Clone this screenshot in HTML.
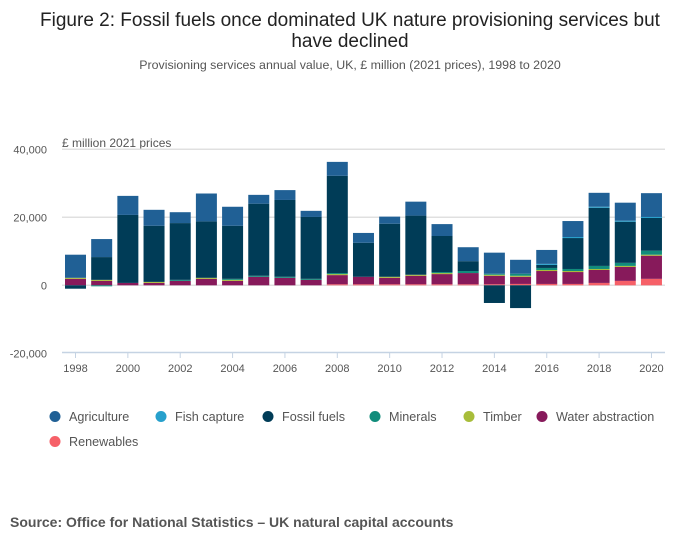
<!DOCTYPE html>
<html><head><meta charset="utf-8"><style>
body{margin:0;background:#fff;font-family:"Liberation Sans",sans-serif;}
svg text{font-family:"Liberation Sans",sans-serif;}
</style></head><body>
<svg id="chart" width="700" height="549" xmlns="http://www.w3.org/2000/svg">
<text x="350" y="26" text-anchor="middle" font-size="19" fill="#222">Figure 2: Fossil fuels once dominated UK nature provisioning services but</text>
<text x="350" y="47" text-anchor="middle" font-size="19" fill="#222">have declined</text>
<text x="350" y="69" text-anchor="middle" font-size="12.4" fill="#555">Provisioning services annual value, UK, £ million (2021 prices), 1998 to 2020</text>
<text x="62" y="147" font-size="12" fill="#555">£ million 2021 prices</text>
<g id="grid"></g><g id="bars"></g><g id="xaxis"></g><g id="legend"></g>
<text x="10" y="527" font-size="14" font-weight="bold" fill="#555">Source: Office for National Statistics – UK natural capital accounts</text>
</svg>
<script>
const years=[1998,1999,2000,2001,2002,2003,2004,2005,2006,2007,2008,2009,2010,2011,2012,2013,2014,2015,2016,2017,2018,2019,2020];
const renewables=[0,0,0,0,0,0,0,0,0,0,0.3,0.3,0.3,0.3,0.3,0.3,0.3,0.4,0.4,0.4,0.7,1.3,1.9];
const water=[1.9,1.3,0.7,0.7,1.3,1.9,1.3,2.5,2.2,1.6,2.7,2.2,1.9,2.5,3.0,3.3,2.5,2.1,3.8,3.5,3.8,4.1,6.8];
const timber=[0.3,0.3,0,0.3,0,0.3,0.3,0,0,0,0.3,0,0.3,0.3,0.3,0,0.3,0.3,0.3,0.3,0.3,0.3,0.3];
const minerals=[0,-0.3,0,0,0.3,0,0.3,0.3,0.3,0.3,0.3,0,0,0,0.3,0.6,0.3,0.6,0.6,0.6,0.9,0.9,1.2];
const fossil=[-1.0,6.7,20.0,16.5,16.7,16.6,15.6,21.2,22.6,18.2,28.6,10.0,15.6,17.4,10.6,2.9,-5.2,-6.7,0.9,9.1,17.1,12.1,9.6];
const fish=[0,0,0,0,0,0,0,0,0,0,0,0,0,0,0,0,0,0,0.3,0.3,0.3,0.3,0.3];
const agriculture=[6.8,5.3,5.6,4.7,3.2,8.2,5.6,2.6,2.9,1.8,4.1,2.9,2.1,4.1,3.5,4.1,6.2,4.1,4.1,4.7,4.1,5.3,7.0];
const yTicks=[40000,20000,0,-20000];
const xTicks=[1998,2000,2002,2004,2006,2008,2010,2012,2014,2016,2018,2020];
const seriesNames=["Renewables","Water abstraction","Timber","Minerals","Fossil fuels","Fish capture","Agriculture"];
const seriesColors=["#f66068","#871a5b","#a8bd3a","#118c7b","#003c57","#27a0cc","#206095"];
const seriesData=[renewables,water,timber,minerals,fossil,fish,agriculture];
const NS="http://www.w3.org/2000/svg";
const y=v=>285.3-v*3.4/1000;
const x=yr=>75.5+(yr-1998)*26.18;
function mk(tag,attrs,parent){const e=document.createElementNS(NS,tag);for(const k in attrs)e.setAttribute(k,attrs[k]);parent.appendChild(e);return e;}
const grid=document.getElementById('grid');
yTicks.forEach(t=>{
  if(t>-20000){const l=mk('line',{x1:62,x2:665,y1:y(t),y2:y(t),stroke:'#e0e0e0','stroke-width':1.5},grid);
  
  }
  const tx=mk('text',{x:47,y:y(t)+4,'text-anchor':'end','font-size':11,fill:'#555'},grid);
  tx.textContent=t.toLocaleString('en-US');
  
  
});
const bars=document.getElementById('bars');
years.forEach((yr,i)=>{
  let pos=0,neg=0;
  seriesData.forEach((s,j)=>{
    const v=s[i]*1000;if(!v)return;
    let a,b;
    if(v>0){a=pos;b=pos+v;pos=b;}else{a=neg;b=neg+v;neg=b;}
    const r=mk('rect',{x:x(yr)-10.5,width:21,y:Math.min(y(a),y(b)),height:Math.abs(y(a)-y(b)),fill:seriesColors[j]},bars);
    
    
  });
});
const xa=document.getElementById('xaxis');
const al=mk('line',{x1:62,x2:665,y1:352.5,y2:352.5,stroke:'#c5d3e3','stroke-width':1.5},xa);


xTicks.forEach(t=>{
  const tk=mk('line',{x1:x(t),x2:x(t),y1:352,y2:358,stroke:'#c5d3e3'},xa);
  
  
  const tx=mk('text',{x:x(t),y:372,'text-anchor':'middle','font-size':11,fill:'#555'},xa);
  tx.textContent=t;
  
  
});
const lg=document.getElementById('legend');
const legendOrder=[["Agriculture","#206095",55,421],["Fish capture","#27a0cc",161,421],["Fossil fuels","#003c57",268,421],["Minerals","#118c7b",375,421],["Timber","#a8bd3a",469,421],["Water abstraction","#871a5b",542,421],["Renewables","#f66068",55,446]];
legendOrder.forEach(([n,c,lx,ly])=>{
  const g=mk('g',{},lg);
  
  
  mk('circle',{cx:lx,cy:ly-4.5,r:5.5,fill:c},g);
  const t=mk('text',{x:lx+14,y:ly,'font-size':12.6,fill:'#555'},g);
  t.textContent=n;
});
</script>
</body></html>
